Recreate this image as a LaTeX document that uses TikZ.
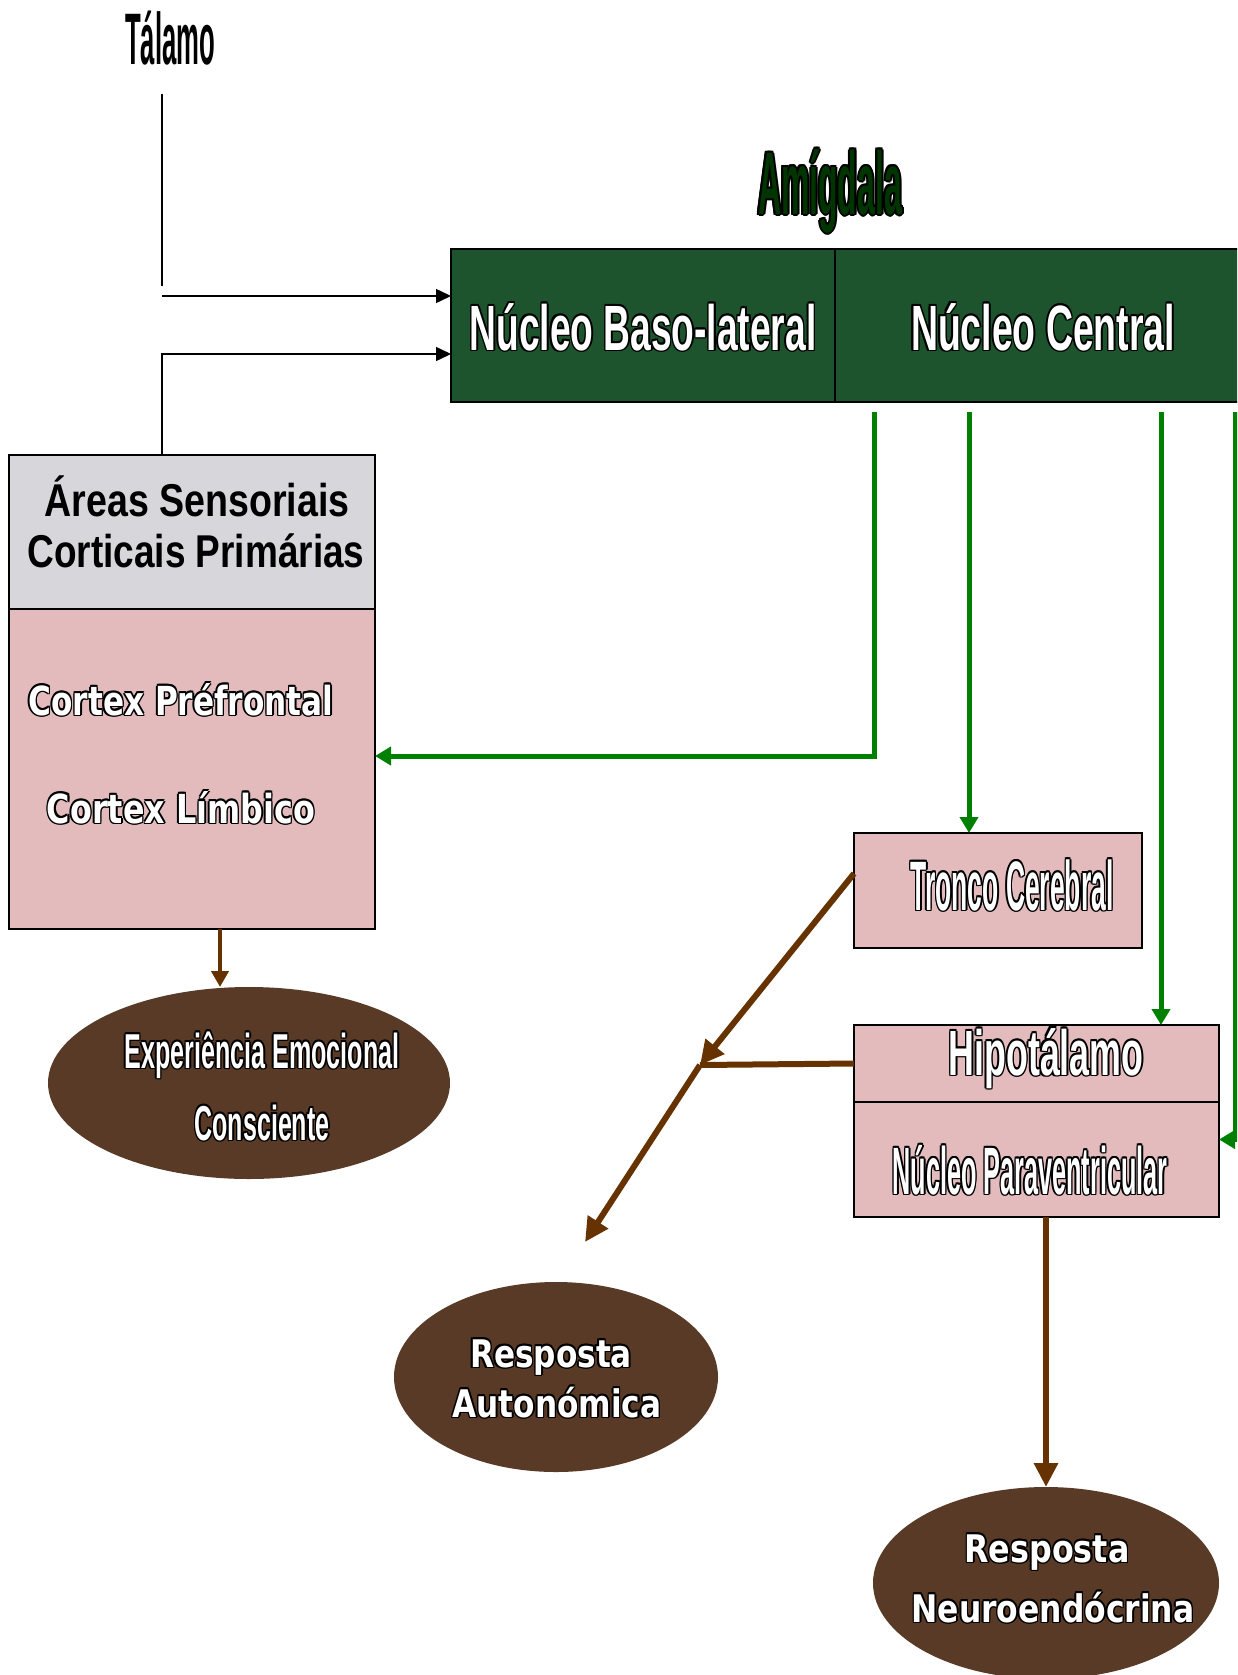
\documentclass[tikz,border=0pt]{standalone}
\usepackage{fontspec}
\setmainfont{Liberation Sans}
\newfontfamily\dejavu{DejaVu Sans}
\usepackage{graphicx}
\usetikzlibrary{arrows.meta,shapes.geometric}

\definecolor{amyg}{RGB}{29,84,46}
\definecolor{amygtxt}{RGB}{0,52,0}
\definecolor{rosa}{RGB}{227,187,188}
\definecolor{cinza}{RGB}{215,215,219}
\definecolor{terra}{RGB}{88,58,38}
\definecolor{verde}{RGB}{0,128,0}
\definecolor{marrom}{RGB}{102,51,0}

% black outline round white letters
\newlength\olw \olw=1.5pt
\newcommand\olt[1]{\leavevmode
	\rlap{\color{black}\kern\olw#1}%
	\rlap{\color{black}\kern-\olw#1}%
	\rlap{\color{black}\raisebox{\olw}{#1}}%
	\rlap{\color{black}\raisebox{-\olw}{#1}}%
	\rlap{\color{black}\kern.7\olw\raisebox{.7\olw}{#1}}%
	\rlap{\color{black}\kern-.7\olw\raisebox{.7\olw}{#1}}%
	\rlap{\color{black}\kern.7\olw\raisebox{-.7\olw}{#1}}%
	\rlap{\color{black}\kern-.7\olw\raisebox{-.7\olw}{#1}}%
	#1}
% narrow letters to a given width
\newcommand\nw[2]{\resizebox{#1}{\height}{#2}}

\tikzset{
	box/.style={draw=black, line width=1.3pt, inner sep=0pt, outer sep=0pt},
	oval/.style={ellipse, fill=terra, inner sep=0pt, outer sep=0pt},
	lbl/.style={inner sep=0pt, anchor=base, font=\bfseries\fontsize{#1}{#1}\selectfont},
	wlbl/.style={lbl=#1, text=white},
	dlbl/.style={inner sep=0pt, anchor=base, text=white, font=\dejavu\bfseries\fontsize{#1}{#1}\selectfont},
	blk/.style={line width=1.5pt, -{Triangle[length=15pt,width=14pt]}},
	grn/.style={draw=verde, line width=5pt, -{Triangle[length=16pt,width=18pt]}},
	brn/.style={draw=marrom, line width=6pt, -{Triangle[length=24pt,width=23pt]}},
	brnline/.style={draw=marrom, line width=6pt},
}

\begin{document}
\begin{tikzpicture}[x=1pt,y=-1pt]
	\useasboundingbox (0,0) rectangle (1237,1675);
	\clip (0,0) rectangle (1237,1675);

	% boxes
	\node[box, fill=amyg, minimum width=384pt, minimum height=153pt] (bl) at (643,325.5) {};
	\node[box, fill=amyg, minimum width=416pt, minimum height=153pt] (ce) at (1043,325.5) {};
	\node[box, fill=cinza, minimum width=366pt, minimum height=154pt] (sens) at (192,532) {};
	\node[box, fill=rosa, minimum width=366pt, minimum height=320pt] (ctx) at (192,769) {};
	\node[box, fill=rosa, minimum width=288pt, minimum height=115pt] (tronco) at (998,890.5) {};
	\node[box, fill=rosa, minimum width=365pt, minimum height=77pt] (hipo) at (1036.5,1063.5) {};
	\node[box, fill=rosa, minimum width=365pt, minimum height=115pt] (pvn) at (1036.5,1159.5) {};

	\node[oval, minimum width=402pt, minimum height=192pt] (emo) at (249,1083) {};
	\node[oval, minimum width=324pt, minimum height=190pt] (aut) at (556,1377) {};
	\node[oval, minimum width=346pt, minimum height=192pt] (neu) at (1046,1583) {};

	% labels
	\node[lbl=73] (tal) at (170,65) {\nw{90pt}{Tálamo}};
	\node[lbl=89, text=amygtxt] (amy) at (830,214) {\olw=2pt\olt{\nw{144pt}{Amígdala}}};
	\node[wlbl=64] (blt) at (643,350) {\olt{\nw{347pt}{Núcleo Baso-lateral}}};
	\node[wlbl=64] (cet) at (1043,350) {\olt{\nw{264pt}{Núcleo Central}}};
	\node[lbl=46] (sen1) at (197,516) {\nw{305pt}{Áreas Sensoriais}};
	\node[lbl=46] (sen2) at (196,567) {\nw{337pt}{Corticais Primárias}};
	\node[dlbl=40] (pref) at (181,715) {\olt{\nw{305pt}{Cortex Préfrontal}}};
	\node[dlbl=40] (limb) at (181,823) {\olt{\nw{268pt}{Cortex Límbico}}};
	\node[wlbl=49] (emo1) at (262,1068) {\olt{\nw{275pt}{Experiência Emocional}}};
	\node[wlbl=49] (emo2) at (262,1140) {\olt{\nw{135pt}{Consciente}}};
	\node[wlbl=70] (trt) at (1012,910) {\olt{\nw{203pt}{Tronco Cerebral}}};
	\node[wlbl=64] (hipt) at (1046,1075) {\olt{\nw{195pt}{Hipotálamo}}};
	\node[wlbl=67] (pvnt) at (1030,1194) {\olt{\nw{275pt}{Núcleo Paraventricular}}};
	\node[dlbl=38] (aut1) at (551,1367) {\olt{\nw{162pt}{Resposta}}};
	\node[dlbl=38] (aut2) at (557,1417) {\olt{\nw{209pt}{Autonómica}}};
	\node[dlbl=38] (neu1) at (1047,1562) {\olt{\nw{165pt}{Resposta}}};
	\node[dlbl=38] (neu2) at (1053,1622) {\olt{\nw{283pt}{Neuroendócrina}}};

	% thalamus and cortex to amygdala
	\coordinate (t1) at (162,94);
	\coordinate (t2) at (162,286);
	\coordinate (t3) at (162,296);
	\draw[line width=1.5pt] (t1) -- (t2);
	\draw[blk] (t3) -- (t3 -| bl.west);
	\draw[blk] ([xshift=-30pt]sens.north) |- ([yshift=-28.5pt]bl.west);

	% amygdala outputs
	\coordinate (g1) at (874,412);
	\coordinate (g2) at (969,412);
	\coordinate (g3) at (1161,412);
	\coordinate (g4) at (1235,412);
	\draw[grn] (g1) |- ([yshift=13pt]ctx.east);
	\draw[grn] (g2) -- (g2 |- tronco.north);
	\draw[grn] (g3) -- (g3 |- hipo.north);
	\draw[grn] (g4) |- ([yshift=20pt]pvn.east);

	% responses
	\coordinate (jn) at (700,1065);
	\coordinate (autin) at (585,1242);
	\draw[brn, line width=4.5pt, -{Triangle[length=16pt,width=17pt]}] ([xshift=28pt]ctx.south) -- ([xshift=28pt]ctx.south |- emo.north);
	\draw[brn] ([yshift=17pt]tronco.west) -- (jn);
	\draw[brnline] (hipo.west) -- (jn);
	\draw[brn] (jn) -- (autin);
	\draw[brn] (pvn.south -| neu.north) -- (neu.north);
\end{tikzpicture}
\end{document}
